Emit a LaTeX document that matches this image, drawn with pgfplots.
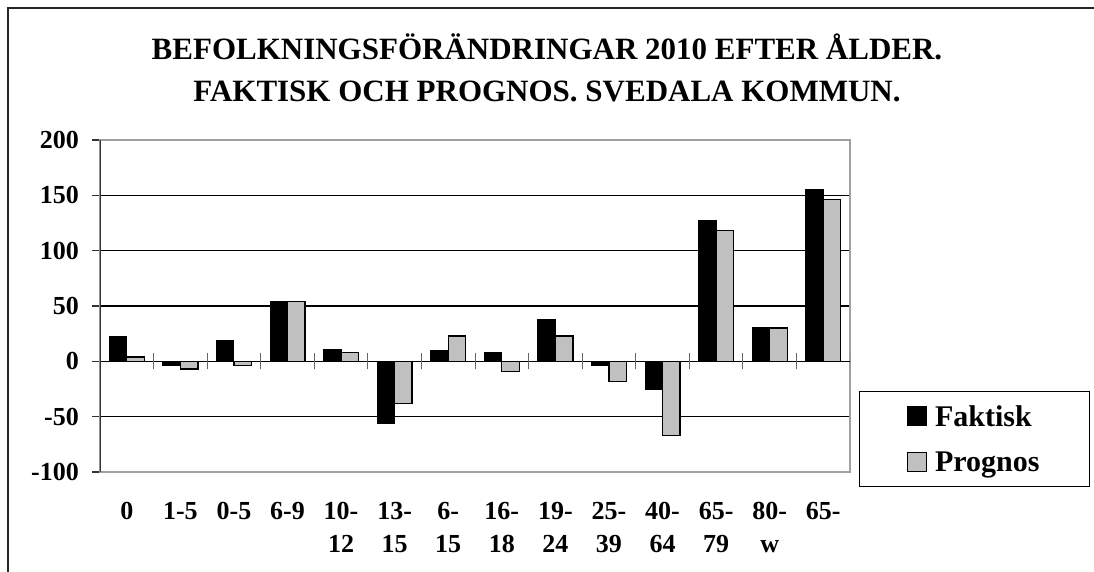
\documentclass[border=0pt]{standalone}
\usepackage{pgfplots}
\pgfplotsset{compat=1.18}
\usepackage{fontspec}
\setmainfont{Liberation Serif}
\definecolor{barg}{RGB}{192,192,192}
\definecolor{frameg}{RGB}{160,160,160}
\begin{document}
\begin{tikzpicture}
\useasboundingbox (0pt,0pt) rectangle (1094pt,-572pt);
\draw[line width=1.5pt, black!85] (8pt,-572pt) -- (8pt,-8pt) -- (1094pt,-8pt);
\node[font=\fontsize{31}{40}\selectfont\bfseries, anchor=base] at (547pt,-60pt) {BEFOLKNINGSFÖRÄNDRINGAR 2010 EFTER ÅLDER.};
\node[font=\fontsize{31}{40}\selectfont\bfseries, anchor=base] at (547pt,-102pt) {FAKTISK OCH PROGNOS. SVEDALA KOMMUN.};
\begin{axis}[
  at={(100pt,-472pt)}, anchor=south west,
  width=750pt, height=332pt, scale only axis,
  xmin=-0.5, xmax=13.5, ymin=-100, ymax=200,
  ytick={-100,-50,...,200},
  xtick={0,...,13},
  xticklabels={0,1-5,0-5,6-9,10-\\12,13-\\15,6-\\15,16-\\18,19-\\24,25-\\39,40-\\64,65-\\79,80-\\w,65-},
  ymajorgrids,
  grid style={black, line width=1.2pt},
  axis line style={frameg, line width=1.5pt},
  tick pos=left, tick align=outside,
  major tick length=8pt,
  ytick style={black!80, line width=1.2pt},
  xtick style={draw=none},
  /pgf/number format/assume math mode=true,
  ticklabel style={font=\fontsize{26}{33}\selectfont\bfseries},
  yticklabel style={inner sep=0pt, xshift=-13pt},
  xticklabel style={align=center, inner sep=0pt, yshift=-22pt},
  legend style={at={(1.32,0.244)}, anchor=north east, draw=black, line width=1pt,
    font=\fontsize{30}{34}\selectfont\bfseries, inner xsep=48pt, inner ysep=12pt,
    row sep=20pt, nodes={inner sep=2pt},
    /tikz/every odd column/.append style={column sep=6pt}},
  legend cell align=left,
  legend image code/.code={\draw[#1, line width=1pt] (0pt,-9pt) rectangle (19pt,10pt);},
]
\draw[black, line width=1.2pt] (axis cs:-0.5,0) -- (axis cs:13.5,0);
\pgfplotsinvokeforeach{0.5,1.5,...,13.5}{\draw[black!60, line width=1pt] (axis cs:#1,0) ++(0pt,-8pt) -- ++(0pt,16pt);}
\addplot[ybar, bar width=17.5pt, bar shift=-8.75pt, fill=black, draw=black, line width=1pt]
  coordinates {(0,22) (1,-4) (2,19) (3,54) (4,11) (5,-56) (6,10) (7,8) (8,38) (9,-4) (10,-25) (11,127) (12,31) (13,155)};
\addlegendentry{Faktisk}
\addplot[ybar, bar width=17.5pt, bar shift=8.75pt, fill=barg, draw=black, line width=1.3pt]
  coordinates {(0,4) (1,-7) (2,-4) (3,54) (4,8) (5,-38) (6,23) (7,-9) (8,23) (9,-18) (10,-67) (11,118) (12,30) (13,146)};
\addlegendentry{Prognos}
\draw[black!80, line width=1.5pt] (rel axis cs:0,0) -- (rel axis cs:0,1);
\end{axis}
\end{tikzpicture}
\end{document}
